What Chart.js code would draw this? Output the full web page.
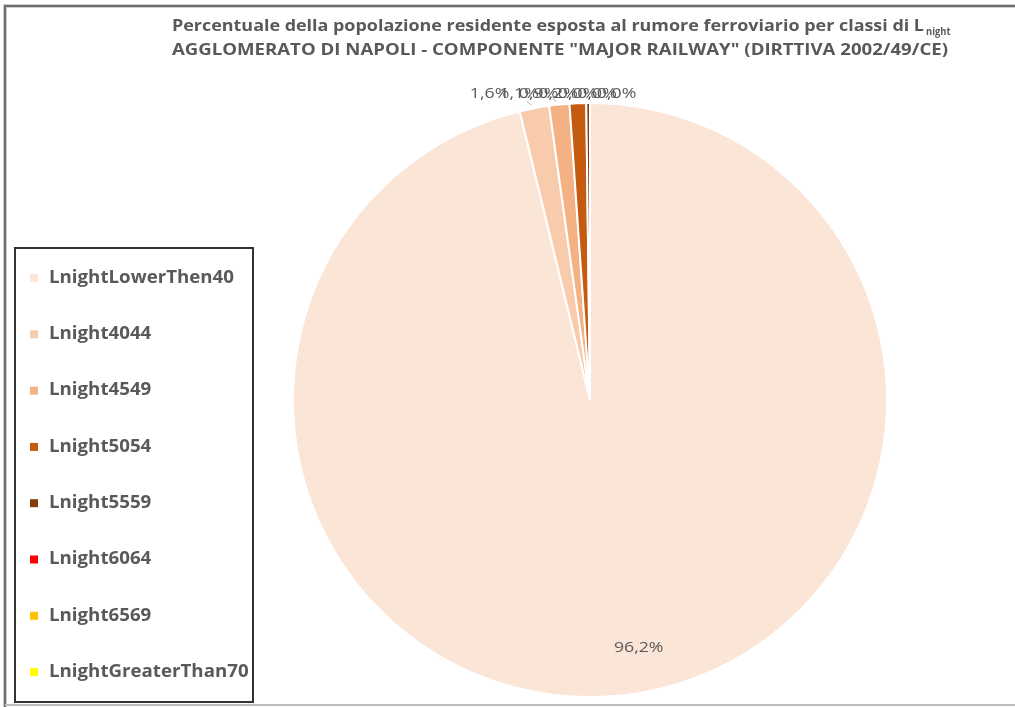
<!DOCTYPE html>
<html>
<head>
<meta charset="utf-8">
<script src="https://cdn.jsdelivr.net/npm/chart.js@4"></script>
<style>
  body { margin: 0; background: #fff; }
  #wrap { width: 1015px; height: 707px; }
</style>
</head>
<body>
<div id="wrap"><canvas id="pieChart" width="1015" height="707"></canvas></div>
<script>
const categories = ["LnightLowerThen40", "Lnight4044", "Lnight4549", "Lnight5054",
  "Lnight5559", "Lnight6064", "Lnight6569", "LnightGreaterThan70"];
const shares = [96.2, 1.6, 1.1, 0.9, 0.2, 0.0, 0.0, 0.0];
const colors = ["#fbe5d6", "#f8cbad", "#f4b183", "#c55a11", "#843c0c", "#ff0000", "#ffc000", "#ffff00"];
const titleLine1 = "Percentuale della popolazione residente esposta al rumore ferroviario per classi di L";
const titleSub = "night";
const titleLine2 = "AGGLOMERATO DI NAPOLI - COMPONENTE \"MAJOR RAILWAY\" (DIRTTIVA 2002/49/CE)";

const textGray = "#595959";
const fmt = v => v.toFixed(1).replace(".", ",") + "%";

// draw text squeezed/stretched horizontally by k (x is the anchor given by textAlign)
function drawScaled(ctx, text, x, y, k) {
  ctx.save();
  ctx.translate(x, y);
  ctx.scale(k, 1);
  ctx.fillText(text, 0, 0);
  ctx.restore();
}

const decor = {
  id: "decor",
  beforeDraw(chart) {
    const ctx = chart.ctx;
    ctx.save();
    // frame of the pasted picture
    ctx.strokeStyle = "#cfcfcf";
    ctx.lineWidth = 4;
    ctx.beginPath();
    ctx.moveTo(5, 707); ctx.lineTo(5, 6); ctx.lineTo(1015, 6);
    ctx.stroke();
    ctx.strokeStyle = "#6e6e6e";
    ctx.lineWidth = 2;
    ctx.beginPath();
    ctx.moveTo(5, 707); ctx.lineTo(5, 6); ctx.lineTo(1015, 6);
    ctx.stroke();
    ctx.strokeStyle = "#bdbdbd";
    ctx.lineWidth = 2;
    ctx.beginPath();
    ctx.moveTo(5, 705); ctx.lineTo(1015, 705);
    ctx.stroke();
    ctx.restore();
  },
  afterDraw(chart) {
    const ctx = chart.ctx;
    ctx.save();
    ctx.fillStyle = textGray;
    ctx.textBaseline = "alphabetic";

    // title
    ctx.font = "bold 16px 'Open Sans'";
    const x0 = 172;
    const k2 = 776 / ctx.measureText(titleLine2).width;
    drawScaled(ctx, titleLine2, x0, 55, k2);
    const w1 = 752 / ctx.measureText(titleLine1).width;
    drawScaled(ctx, titleLine1, x0, 31, w1);
    ctx.font = "bold 11px 'Open Sans'";
    drawScaled(ctx, titleSub, x0 + 754, 35, 0.85);

    // legend
    ctx.strokeStyle = "#333";
    ctx.lineWidth = 2;
    ctx.strokeRect(15, 248, 238, 454);
    ctx.font = "bold 17px 'Open Sans'";
    ctx.textBaseline = "middle";
    const kl = 185 / ctx.measureText(categories[0]).width;
    categories.forEach((c, i) => {
      const y = 278 + i * 56.3;
      ctx.fillStyle = colors[i];
      ctx.fillRect(30, y - 4, 8, 8);
      ctx.fillStyle = textGray;
      drawScaled(ctx, c, 49, y, kl);
    });

    // data labels
    const arcs = chart.getDatasetMeta(0).data;
    ctx.font = "15px 'Open Sans'";
    ctx.textAlign = "center";
    ctx.textBaseline = "middle";
    const kd = 1.18;
    const small = [];
    arcs.forEach((a, i) => {
      const mid = (a.startAngle + a.endAngle) / 2;
      if (shares[i] > 10) {
        const r = a.outerRadius * 0.84;
        drawScaled(ctx, fmt(shares[i]), a.x + r * Math.cos(mid) + 19, a.y + r * Math.sin(mid), kd);
      } else {
        small.push({ i, mid, a });
      }
    });
    // spread the crowded labels above the top of the pie
    const nat = small.map(s => s.a.x + (s.a.outerRadius + 12) * Math.cos(s.mid));
    const mean = nat.reduce((p, q) => p + q, 0) / nat.length - 17;
    const gap = 19.5;
    small.forEach((s, k) => {
      let lx = mean + (k - (small.length - 1) / 2) * gap;
      if (k === 0) lx -= 10;
      const ly = 94;
      ctx.fillStyle = textGray;
      drawScaled(ctx, fmt(shares[s.i]), lx, ly, kd);
      if (k < 2) {
        const ex = s.a.x + (s.a.outerRadius + 1) * Math.cos(s.mid);
        const ey = s.a.y + (s.a.outerRadius + 1) * Math.sin(s.mid);
        ctx.strokeStyle = "#a6a6a6";
        ctx.lineWidth = 1;
        ctx.beginPath();
        ctx.moveTo(ex - 7, ey - 6);
        ctx.lineTo(ex - 3, ey - 2);
        ctx.stroke();
      }
    });
    ctx.restore();
  }
};

new Chart(document.getElementById("pieChart"), {
  type: "pie",
  data: {
    labels: categories,
    datasets: [{
      data: shares,
      backgroundColor: colors,
      borderColor: "#ffffff",
      borderWidth: 2
    }]
  },
  options: {
    responsive: false,
    animation: false,
    layout: { padding: { top: 102, bottom: 9, left: 292, right: 127 } },
    plugins: {
      legend: { display: false },
      title: { display: false },
      tooltip: { enabled: false }
    }
  },
  plugins: [decor]
});
</script>
</body>
</html>
